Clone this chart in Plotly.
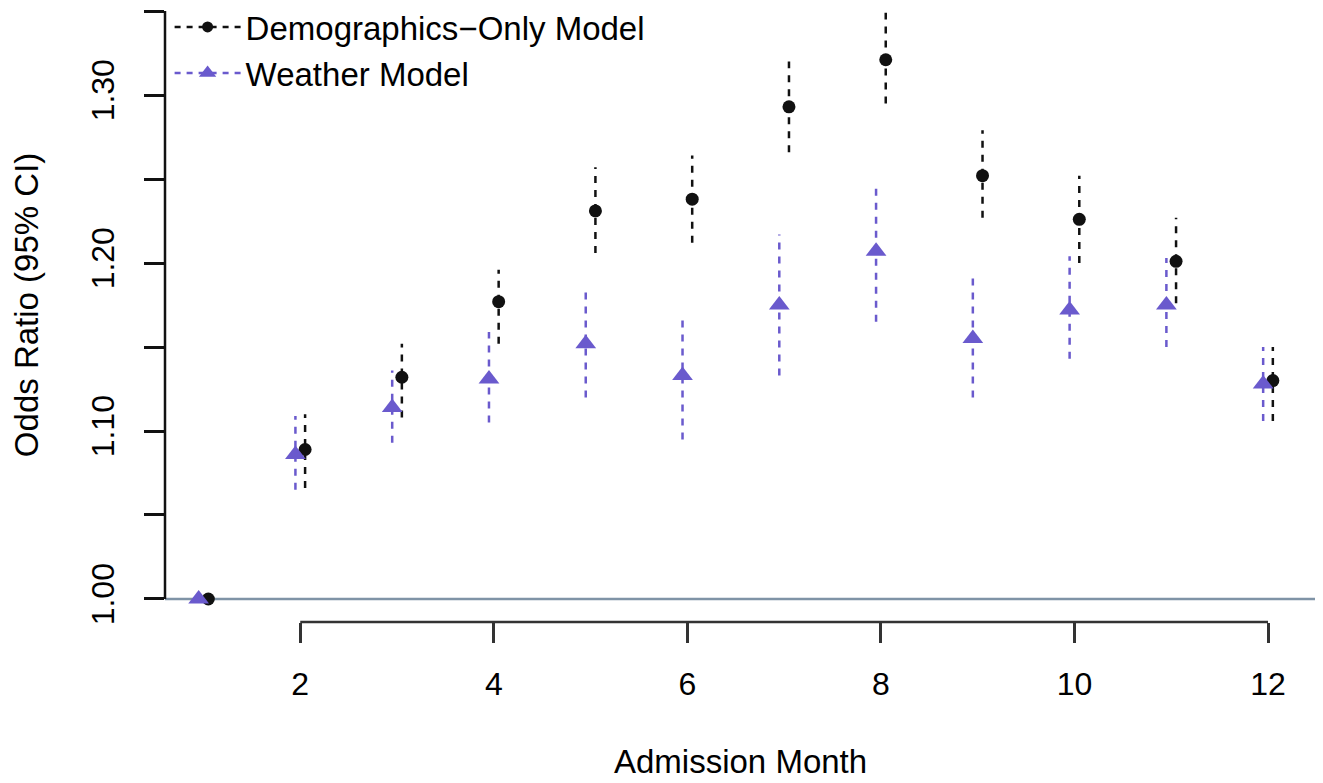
import plotly.graph_objects as go

# ---- data ----
months = [1, 2, 3, 4, 5, 6, 7, 8, 9, 10, 11, 12]

demo_or = [1.000, 1.089, 1.132, 1.177, 1.231, 1.238, 1.293, 1.321, 1.252, 1.226, 1.201, 1.130]
demo_lo = [1.000, 1.066, 1.108, 1.152, 1.206, 1.212, 1.266, 1.295, 1.227, 1.200, 1.176, 1.106]
demo_hi = [1.000, 1.110, 1.152, 1.196, 1.257, 1.264, 1.320, 1.349, 1.279, 1.252, 1.227, 1.150]

wx_or = [1.000, 1.086, 1.114, 1.131, 1.152, 1.133, 1.175, 1.207, 1.155, 1.172, 1.175, 1.128]
wx_lo = [1.000, 1.065, 1.093, 1.105, 1.120, 1.095, 1.133, 1.165, 1.120, 1.143, 1.150, 1.106]
wx_hi = [1.000, 1.109, 1.136, 1.159, 1.184, 1.169, 1.217, 1.248, 1.194, 1.204, 1.203, 1.150]

x_ticks = [2, 4, 6, 8, 10, 12]
y_ticks = [1.00, 1.05, 1.10, 1.15, 1.20, 1.25, 1.30, 1.35]
y_ticktext = ["1.00", "", "1.10", "", "1.20", "", "1.30", ""]

series_names = ["Demographics\u2212Only Model", "Weather Model"]

# ---- styling ----
BLACK = "#111111"
PURPLE = "#6A5ACD"
FONT = "Liberation Sans, Arial, Helvetica, sans-serif"
FS = 32
DASH = "7px,7px"
OFFSET = 0.05


def seg(xs, lo, hi):
    X, Y = [], []
    for x, a, b in zip(xs, lo, hi):
        X += [x, x, None]
        Y += [a, b, None]
    return X, Y


xd = [m + OFFSET for m in months]
xw = [m - OFFSET for m in months]

fig = go.Figure()

# CI lines
X, Y = seg(xd, demo_lo, demo_hi)
fig.add_trace(go.Scatter(x=X, y=Y, mode="lines", showlegend=False,
                         line=dict(color=BLACK, width=2.5, dash=DASH), hoverinfo="skip"))
X, Y = seg(xw, wx_lo, wx_hi)
fig.add_trace(go.Scatter(x=X, y=Y, mode="lines", showlegend=False,
                         line=dict(color=PURPLE, width=2.5, dash=DASH), hoverinfo="skip"))

# points
fig.add_trace(go.Scatter(x=xd, y=demo_or, mode="markers", showlegend=False,
                         marker=dict(symbol="circle", size=13, color=BLACK)))
fig.add_trace(go.Scatter(x=xw, y=wx_or, mode="markers", showlegend=False,
                         marker=dict(symbol="triangle-up", size=18, color=PURPLE)))

# legend entries
fig.add_trace(go.Scatter(x=[None], y=[None], mode="lines+markers", name=series_names[0],
                         line=dict(color=BLACK, width=2.5, dash="6px,6px"),
                         marker=dict(symbol="circle", size=11, color=BLACK)))
fig.add_trace(go.Scatter(x=[None], y=[None], mode="lines+markers", name=series_names[1],
                         line=dict(color=PURPLE, width=2.5, dash="6px,6px"),
                         marker=dict(symbol="triangle-up", size=15, color=PURPLE)))

# reference line at OR = 1 and R-style axis lines
fig.add_shape(type="line", xref="paper", x0=0, x1=1, yref="y", y0=1.0, y1=1.0,
              line=dict(color="#7f93a6", width=2.5), layer="below")
fig.add_shape(type="line", xref="paper", x0=0, x1=0, yref="y", y0=y_ticks[0], y1=y_ticks[-1],
              line=dict(color=BLACK, width=2.5))
fig.add_shape(type="line", xref="x", x0=x_ticks[0], x1=x_ticks[-1], yref="paper", y0=0, y1=0,
              line=dict(color="#333333", width=2.5))

fig.update_layout(
    width=1315, height=775,
    margin=dict(l=157, r=7, t=0, b=161, autoexpand=False),
    paper_bgcolor="white", plot_bgcolor="white",
    font=dict(family=FONT, size=FS, color="black"),
    showlegend=True,
    legend=dict(x=0.004, y=1.0146, xanchor="left", yanchor="top",
                bgcolor="rgba(0,0,0,0)", font=dict(size=FS + 1, family=FONT),
                itemwidth=66, tracegroupgap=0),
    xaxis=dict(range=[0.6023, 12.496], tickvals=x_ticks, ticks="outside", ticklen=20,
               tickwidth=2.5, tickcolor="#333333", showgrid=False, zeroline=False,
               showline=False, tickfont=dict(size=FS, family=FONT), ticklabelstandoff=14,
               automargin=False),
    yaxis=dict(range=[0.9863, 1.3518], tickvals=y_ticks, ticktext=y_ticktext,
               ticks="outside", ticklen=20, tickwidth=2.5, tickcolor=BLACK,
               showgrid=False, zeroline=False, showline=False, tickangle=-90,
               tickfont=dict(size=FS, family=FONT), ticklabelstandoff=17,
               automargin=False),
    annotations=[
        dict(text="Admission Month", xref="paper", yref="paper", x=0.4996, y=-0.2264,
             xanchor="center", yanchor="middle", showarrow=False,
             font=dict(size=FS + 1, family=FONT, color="black")),
        dict(text="Odds Ratio (95% CI)", xref="paper", yref="paper", x=-0.1208, y=0.516,
             xanchor="center", yanchor="middle", textangle=-90, showarrow=False,
             font=dict(size=FS + 1, family=FONT, color="black")),
    ],
)

fig.write_html("out.html")
